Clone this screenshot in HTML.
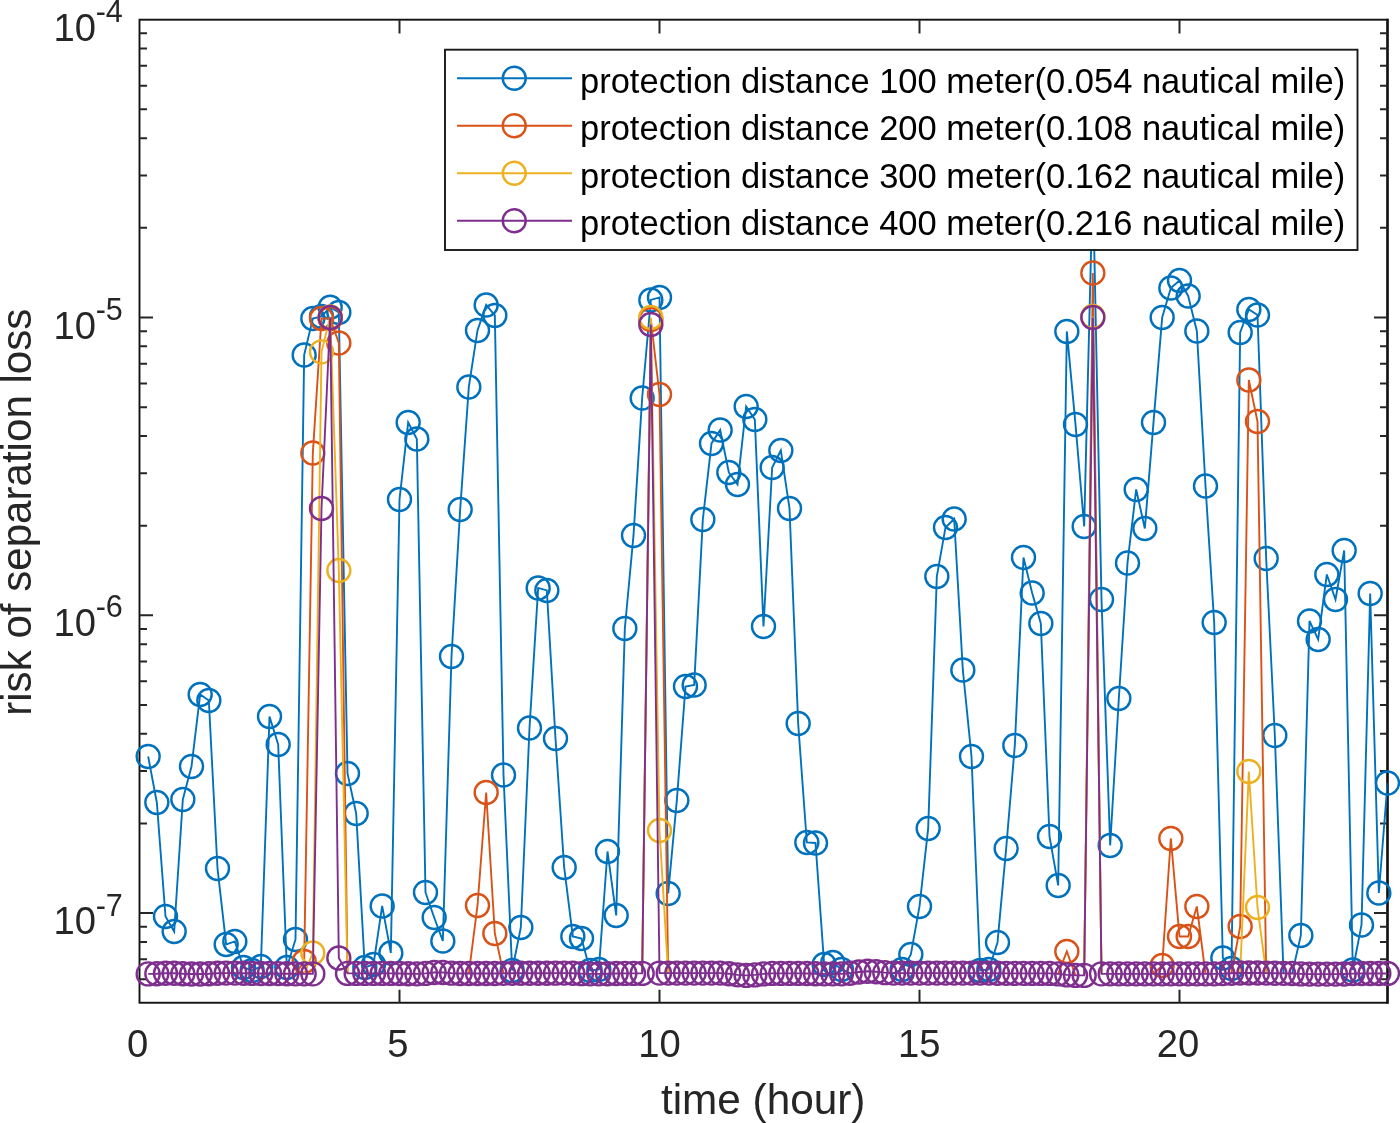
<!DOCTYPE html>
<html><head><meta charset="utf-8"><title>risk of separation loss</title>
<style>html,body{margin:0;padding:0;background:#fff}body{width:1400px;height:1123px;overflow:hidden}</style></head>
<body>
<svg width="1400" height="1123" viewBox="0 0 1400 1123" style="display:block;will-change:transform;font-family:'Liberation Sans',sans-serif">
<rect width="1400" height="1123" fill="#fff"/>
<g stroke="#121212" stroke-width="1.9" fill="none" stroke-linecap="butt">
<rect x="139.5" y="19.7" width="1248.0" height="983.05"/>
<path d="M1387.5 18.8V1003.65" stroke-width="2.4"/>
<path stroke="#262626" stroke-width="2" d="M139.5 979.17h7.5M1387.5 979.17h-7.5M139.5 959.23h7.5M1387.5 959.23h-7.5M139.5 941.96h7.5M1387.5 941.96h-7.5M139.5 926.73h7.5M1387.5 926.73h-7.5M139.5 913.1h13.5M1387.5 913.1h-13.5M139.5 823.46h7.5M1387.5 823.46h-7.5M139.5 771.02h7.5M1387.5 771.02h-7.5M139.5 733.81h7.5M1387.5 733.81h-7.5M139.5 704.95h7.5M1387.5 704.95h-7.5M139.5 681.37h7.5M1387.5 681.37h-7.5M139.5 661.43h7.5M1387.5 661.43h-7.5M139.5 644.16h7.5M1387.5 644.16h-7.5M139.5 628.93h7.5M1387.5 628.93h-7.5M139.5 615.3h13.5M1387.5 615.3h-13.5M139.5 525.65h7.5M1387.5 525.65h-7.5M139.5 473.21h7.5M1387.5 473.21h-7.5M139.5 436.01h7.5M1387.5 436.01h-7.5M139.5 407.15h7.5M1387.5 407.15h-7.5M139.5 383.57h7.5M1387.5 383.57h-7.5M139.5 363.63h7.5M1387.5 363.63h-7.5M139.5 346.36h7.5M1387.5 346.36h-7.5M139.5 331.13h7.5M1387.5 331.13h-7.5M139.5 317.5h13.5M1387.5 317.5h-13.5M139.5 227.85h7.5M1387.5 227.85h-7.5M139.5 175.41h7.5M1387.5 175.41h-7.5M139.5 138.21h7.5M1387.5 138.21h-7.5M139.5 109.35h7.5M1387.5 109.35h-7.5M139.5 85.77h7.5M1387.5 85.77h-7.5M139.5 65.83h7.5M1387.5 65.83h-7.5M139.5 48.56h7.5M1387.5 48.56h-7.5M139.5 33.33h7.5M1387.5 33.33h-7.5M399.5 1002.75v-13M399.5 19.7v13.9M659.5 1002.75v-13M659.5 19.7v13.9M919.5 1002.75v-13M919.5 19.7v13.9M1179.5 1002.75v-13M1179.5 19.7v13.9"/>
</g>
<g fill="#262626" font-size="38.2px">
<text x="137.5" y="1056.6" text-anchor="middle">0</text>
<text x="397.9" y="1056.6" text-anchor="middle">5</text>
<text x="659.5" y="1056.6" text-anchor="middle">10</text>
<text x="919.2" y="1056.6" text-anchor="middle">15</text>
<text x="1178.0" y="1056.6" text-anchor="middle">20</text>
<text x="53.5" y="40.6">10<tspan font-size="30.5px" dy="-18.2" dx="-0.3">-4</tspan></text>
<text x="53.5" y="339.4">10<tspan font-size="30.5px" dy="-19.4" dx="-0.3">-5</tspan></text>
<text x="53.5" y="635.5">10<tspan font-size="30.5px" dy="-18.5" dx="-0.3">-6</tspan></text>
<text x="53.5" y="934.2">10<tspan font-size="30.5px" dy="-18.2" dx="-0.3">-7</tspan></text>
</g>
<g fill="#262626" font-size="42.3px">
<text x="763.2" y="1114" text-anchor="middle">time (hour)</text>
<text transform="translate(31 512.2) rotate(-90)" text-anchor="middle" font-size="42.1px">risk of separation loss</text>
</g>
<clipPath id="c"><rect x="139.5" y="19.7" width="1248.0" height="983.05"/></clipPath>
<g stroke="#0072BD" fill="none">
<path clip-path="url(#c)" stroke-width="1.9" stroke-linejoin="miter" d="M148.17 756.45L156.83 802.45L165.50 916.45L174.17 931.45L182.83 799.45L191.50 766.45L200.17 694.45L208.83 700.45L217.50 868.45L226.17 944.45L234.83 941.45L243.50 967.45L252.17 970.45L260.83 966.45L269.50 716.45L278.17 744.45L286.83 967.45L295.50 939.45L304.17 354.95L312.83 318.45L321.50 316.45L330.17 307.25L338.83 312.45L347.50 773.45L356.17 813.45L364.83 967.45L373.50 964.45L382.17 905.95L390.83 952.95L399.50 499.45L408.17 422.45L416.83 438.95L425.50 892.45L434.17 917.45L442.83 940.95L451.50 656.45L460.17 509.45L468.83 386.95L477.50 330.45L486.17 304.95L494.83 315.45L503.50 774.95L512.17 970.45L520.83 927.45L529.50 727.95L538.17 587.95L546.83 590.45L555.50 738.45L564.17 867.45L572.83 936.45L581.50 938.45L590.17 970.45L598.83 969.45L607.50 851.45L616.17 915.45L624.83 628.45L633.50 535.45L642.17 397.95L650.83 299.95L659.50 297.45L668.17 893.45L676.83 800.45L685.50 686.45L694.17 684.95L702.83 519.45L711.50 443.45L720.17 429.95L728.83 472.45L737.50 484.45L746.17 406.45L754.83 419.45L763.50 626.45L772.17 467.45L780.83 450.45L789.50 508.45L798.17 723.45L806.83 842.45L815.50 842.95L824.17 964.45L832.83 962.45L841.50 969.45L850.17 973.21M893.50 973.10L902.17 969.45L910.83 954.45L919.50 906.45L928.17 828.45L936.83 576.45L945.50 527.45L954.17 518.95L962.83 669.95L971.50 756.45L980.17 970.45L988.83 969.45L997.50 942.45L1006.17 848.45L1014.83 745.45L1023.50 557.45L1032.17 592.95L1040.83 623.45L1049.50 836.45L1058.17 885.45L1066.83 331.45L1075.50 424.45L1084.17 526.45L1092.83 180.45L1101.50 599.45L1110.17 845.45L1118.83 698.45L1127.50 562.95L1136.17 489.45L1144.83 528.45L1153.50 422.45L1162.17 317.45L1170.83 287.95L1179.50 280.45L1188.17 295.95L1196.83 330.95L1205.50 485.95L1214.17 622.45L1222.83 957.95L1231.50 968.45L1240.17 332.45L1248.83 309.45L1257.50 314.95L1266.17 558.45L1274.83 735.45L1283.50 973.35M1292.17 973.54L1300.83 935.45L1309.50 620.95L1318.17 639.45L1326.83 574.45L1335.50 599.45L1344.17 550.45L1352.83 969.95L1361.50 924.95L1370.17 593.45L1378.83 892.95L1387.50 782.95"/>
<g stroke-width="2.4"><circle cx="148.17" cy="756.45" r="11.5"/><circle cx="156.83" cy="802.45" r="11.5"/><circle cx="165.50" cy="916.45" r="11.5"/><circle cx="174.17" cy="931.45" r="11.5"/><circle cx="182.83" cy="799.45" r="11.5"/><circle cx="191.50" cy="766.45" r="11.5"/><circle cx="200.17" cy="694.45" r="11.5"/><circle cx="208.83" cy="700.45" r="11.5"/><circle cx="217.50" cy="868.45" r="11.5"/><circle cx="226.17" cy="944.45" r="11.5"/><circle cx="234.83" cy="941.45" r="11.5"/><circle cx="243.50" cy="967.45" r="11.5"/><circle cx="252.17" cy="970.45" r="11.5"/><circle cx="260.83" cy="966.45" r="11.5"/><circle cx="269.50" cy="716.45" r="11.5"/><circle cx="278.17" cy="744.45" r="11.5"/><circle cx="286.83" cy="967.45" r="11.5"/><circle cx="295.50" cy="939.45" r="11.5"/><circle cx="304.17" cy="354.95" r="11.5"/><circle cx="312.83" cy="318.45" r="11.5"/><circle cx="321.50" cy="316.45" r="11.5"/><circle cx="330.17" cy="307.25" r="11.5"/><circle cx="338.83" cy="312.45" r="11.5"/><circle cx="347.50" cy="773.45" r="11.5"/><circle cx="356.17" cy="813.45" r="11.5"/><circle cx="364.83" cy="967.45" r="11.5"/><circle cx="373.50" cy="964.45" r="11.5"/><circle cx="382.17" cy="905.95" r="11.5"/><circle cx="390.83" cy="952.95" r="11.5"/><circle cx="399.50" cy="499.45" r="11.5"/><circle cx="408.17" cy="422.45" r="11.5"/><circle cx="416.83" cy="438.95" r="11.5"/><circle cx="425.50" cy="892.45" r="11.5"/><circle cx="434.17" cy="917.45" r="11.5"/><circle cx="442.83" cy="940.95" r="11.5"/><circle cx="451.50" cy="656.45" r="11.5"/><circle cx="460.17" cy="509.45" r="11.5"/><circle cx="468.83" cy="386.95" r="11.5"/><circle cx="477.50" cy="330.45" r="11.5"/><circle cx="486.17" cy="304.95" r="11.5"/><circle cx="494.83" cy="315.45" r="11.5"/><circle cx="503.50" cy="774.95" r="11.5"/><circle cx="512.17" cy="970.45" r="11.5"/><circle cx="520.83" cy="927.45" r="11.5"/><circle cx="529.50" cy="727.95" r="11.5"/><circle cx="538.17" cy="587.95" r="11.5"/><circle cx="546.83" cy="590.45" r="11.5"/><circle cx="555.50" cy="738.45" r="11.5"/><circle cx="564.17" cy="867.45" r="11.5"/><circle cx="572.83" cy="936.45" r="11.5"/><circle cx="581.50" cy="938.45" r="11.5"/><circle cx="590.17" cy="970.45" r="11.5"/><circle cx="598.83" cy="969.45" r="11.5"/><circle cx="607.50" cy="851.45" r="11.5"/><circle cx="616.17" cy="915.45" r="11.5"/><circle cx="624.83" cy="628.45" r="11.5"/><circle cx="633.50" cy="535.45" r="11.5"/><circle cx="642.17" cy="397.95" r="11.5"/><circle cx="650.83" cy="299.95" r="11.5"/><circle cx="659.50" cy="297.45" r="11.5"/><circle cx="668.17" cy="893.45" r="11.5"/><circle cx="676.83" cy="800.45" r="11.5"/><circle cx="685.50" cy="686.45" r="11.5"/><circle cx="694.17" cy="684.95" r="11.5"/><circle cx="702.83" cy="519.45" r="11.5"/><circle cx="711.50" cy="443.45" r="11.5"/><circle cx="720.17" cy="429.95" r="11.5"/><circle cx="728.83" cy="472.45" r="11.5"/><circle cx="737.50" cy="484.45" r="11.5"/><circle cx="746.17" cy="406.45" r="11.5"/><circle cx="754.83" cy="419.45" r="11.5"/><circle cx="763.50" cy="626.45" r="11.5"/><circle cx="772.17" cy="467.45" r="11.5"/><circle cx="780.83" cy="450.45" r="11.5"/><circle cx="789.50" cy="508.45" r="11.5"/><circle cx="798.17" cy="723.45" r="11.5"/><circle cx="806.83" cy="842.45" r="11.5"/><circle cx="815.50" cy="842.95" r="11.5"/><circle cx="824.17" cy="964.45" r="11.5"/><circle cx="832.83" cy="962.45" r="11.5"/><circle cx="841.50" cy="969.45" r="11.5"/><circle cx="902.17" cy="969.45" r="11.5"/><circle cx="910.83" cy="954.45" r="11.5"/><circle cx="919.50" cy="906.45" r="11.5"/><circle cx="928.17" cy="828.45" r="11.5"/><circle cx="936.83" cy="576.45" r="11.5"/><circle cx="945.50" cy="527.45" r="11.5"/><circle cx="954.17" cy="518.95" r="11.5"/><circle cx="962.83" cy="669.95" r="11.5"/><circle cx="971.50" cy="756.45" r="11.5"/><circle cx="980.17" cy="970.45" r="11.5"/><circle cx="988.83" cy="969.45" r="11.5"/><circle cx="997.50" cy="942.45" r="11.5"/><circle cx="1006.17" cy="848.45" r="11.5"/><circle cx="1014.83" cy="745.45" r="11.5"/><circle cx="1023.50" cy="557.45" r="11.5"/><circle cx="1032.17" cy="592.95" r="11.5"/><circle cx="1040.83" cy="623.45" r="11.5"/><circle cx="1049.50" cy="836.45" r="11.5"/><circle cx="1058.17" cy="885.45" r="11.5"/><circle cx="1066.83" cy="331.45" r="11.5"/><circle cx="1075.50" cy="424.45" r="11.5"/><circle cx="1084.17" cy="526.45" r="11.5"/><circle cx="1092.83" cy="180.45" r="11.5"/><circle cx="1101.50" cy="599.45" r="11.5"/><circle cx="1110.17" cy="845.45" r="11.5"/><circle cx="1118.83" cy="698.45" r="11.5"/><circle cx="1127.50" cy="562.95" r="11.5"/><circle cx="1136.17" cy="489.45" r="11.5"/><circle cx="1144.83" cy="528.45" r="11.5"/><circle cx="1153.50" cy="422.45" r="11.5"/><circle cx="1162.17" cy="317.45" r="11.5"/><circle cx="1170.83" cy="287.95" r="11.5"/><circle cx="1179.50" cy="280.45" r="11.5"/><circle cx="1188.17" cy="295.95" r="11.5"/><circle cx="1196.83" cy="330.95" r="11.5"/><circle cx="1205.50" cy="485.95" r="11.5"/><circle cx="1214.17" cy="622.45" r="11.5"/><circle cx="1222.83" cy="957.95" r="11.5"/><circle cx="1231.50" cy="968.45" r="11.5"/><circle cx="1240.17" cy="332.45" r="11.5"/><circle cx="1248.83" cy="309.45" r="11.5"/><circle cx="1257.50" cy="314.95" r="11.5"/><circle cx="1266.17" cy="558.45" r="11.5"/><circle cx="1274.83" cy="735.45" r="11.5"/><circle cx="1300.83" cy="935.45" r="11.5"/><circle cx="1309.50" cy="620.95" r="11.5"/><circle cx="1318.17" cy="639.45" r="11.5"/><circle cx="1326.83" cy="574.45" r="11.5"/><circle cx="1335.50" cy="599.45" r="11.5"/><circle cx="1344.17" cy="550.45" r="11.5"/><circle cx="1352.83" cy="969.95" r="11.5"/><circle cx="1361.50" cy="924.95" r="11.5"/><circle cx="1370.17" cy="593.45" r="11.5"/><circle cx="1378.83" cy="892.95" r="11.5"/><circle cx="1387.50" cy="782.95" r="11.5"/></g>
</g>
<g stroke="#D95319" fill="none">
<path clip-path="url(#c)" stroke-width="1.9" stroke-linejoin="miter" d="M295.50 973.85L304.17 961.45L312.83 452.95L321.50 318.45L330.17 318.45L338.83 342.95L347.50 973.40M468.83 973.50L477.50 905.45L486.17 792.45L494.83 933.45L503.50 973.35M642.17 973.40L650.83 319.45L659.50 394.45L668.17 973.10M1058.17 973.90L1066.83 951.45L1075.50 975.40M1084.17 975.40L1092.83 272.95L1101.50 973.85M1153.50 973.85L1162.17 965.45L1170.83 838.45L1179.50 936.45L1188.17 936.45L1196.83 906.45L1205.50 973.85M1231.50 973.21L1240.17 926.45L1248.83 379.95L1257.50 421.45L1266.17 973.09"/>
<g stroke-width="2.4"><circle cx="304.17" cy="961.45" r="11.5"/><circle cx="312.83" cy="452.95" r="11.5"/><circle cx="321.50" cy="318.45" r="11.5"/><circle cx="330.17" cy="318.45" r="11.5"/><circle cx="338.83" cy="342.95" r="11.5"/><circle cx="477.50" cy="905.45" r="11.5"/><circle cx="486.17" cy="792.45" r="11.5"/><circle cx="494.83" cy="933.45" r="11.5"/><circle cx="650.83" cy="319.45" r="11.5"/><circle cx="659.50" cy="394.45" r="11.5"/><circle cx="1066.83" cy="951.45" r="11.5"/><circle cx="1092.83" cy="272.95" r="11.5"/><circle cx="1162.17" cy="965.45" r="11.5"/><circle cx="1170.83" cy="838.45" r="11.5"/><circle cx="1179.50" cy="936.45" r="11.5"/><circle cx="1188.17" cy="936.45" r="11.5"/><circle cx="1196.83" cy="906.45" r="11.5"/><circle cx="1240.17" cy="926.45" r="11.5"/><circle cx="1248.83" cy="379.95" r="11.5"/><circle cx="1257.50" cy="421.45" r="11.5"/></g>
</g>
<g stroke="#EDB120" fill="none">
<path clip-path="url(#c)" stroke-width="1.9" stroke-linejoin="miter" d="M304.17 973.85L312.83 952.95L321.50 351.85L330.17 316.95L338.83 570.45L347.50 973.40M642.17 973.40L650.83 317.45L659.50 830.45L668.17 973.10M1084.17 975.40L1092.83 316.45L1101.50 973.85M1240.17 973.00L1248.83 771.45L1257.50 907.45L1266.17 973.09"/>
<g stroke-width="2.4"><circle cx="312.83" cy="952.95" r="11.5"/><circle cx="321.50" cy="351.85" r="11.5"/><circle cx="330.17" cy="316.95" r="11.5"/><circle cx="338.83" cy="570.45" r="11.5"/><circle cx="650.83" cy="317.45" r="11.5"/><circle cx="659.50" cy="830.45" r="11.5"/><circle cx="1092.83" cy="316.45" r="11.5"/><circle cx="1248.83" cy="771.45" r="11.5"/><circle cx="1257.50" cy="907.45" r="11.5"/></g>
</g>
<g stroke="#7E2F8E" fill="none">
<path clip-path="url(#c)" stroke-width="1.9" stroke-linejoin="miter" d="M148.17 973.90 L156.83 973.70 L165.50 973.30 L174.17 973.31 L182.83 973.74 L191.50 973.95 L200.17 973.95 L208.83 973.74 L217.50 973.31 L226.17 973.10 L234.83 973.10 L243.50 973.20 L252.17 973.40 L260.83 973.50 L269.50 973.50 L278.17 973.59 L286.83 973.76 L295.50 973.85 L304.17 973.85 L312.83 973.85 L321.50 508.45 L330.17 317.45 L338.83 957.95 L347.50 973.40 L356.17 973.40 L364.83 973.40 L373.50 973.40 L382.17 973.40 L390.83 973.40 L399.50 973.51 L408.17 973.74 L416.83 973.85 L425.50 973.41 L434.17 972.54 L442.83 972.45 L451.50 973.15 L460.17 973.50 L468.83 973.50 L477.50 973.50 L486.17 973.50 L494.83 973.45 L503.50 973.35 L512.17 973.30 L520.83 973.30 L529.50 973.30 L538.17 973.30 L546.83 973.25 L555.50 973.15 L564.17 973.10 L572.83 973.29 L581.50 973.66 L590.17 973.85 L598.83 973.85 L607.50 973.74 L616.17 973.51 L624.83 973.40 L633.50 973.40 L642.17 973.40 L650.83 324.45 L659.50 973.10 L668.17 973.10 L676.83 973.10 L685.50 973.10 L694.17 973.10 L702.83 973.10 L711.50 973.10 L720.17 973.10 L728.83 973.68 L737.50 974.83 L746.17 975.40 L754.83 974.90 L763.50 973.90 L772.17 973.40 L780.83 973.40 L789.50 973.40 L798.17 973.40 L806.83 973.51 L815.50 973.74 L824.17 973.85 L832.83 973.85 L841.50 973.85 L850.17 973.21 L858.83 971.94 L867.50 971.30 L876.17 971.75 L884.83 972.65 L893.50 973.10 L902.17 973.10 L910.83 973.10 L919.50 973.10 L928.17 973.10 L936.83 973.10 L945.50 973.10 L954.17 973.10 L962.83 973.10 L971.50 973.10 L980.17 973.10 L988.83 973.10 L997.50 973.18 L1006.17 973.33 L1014.83 973.40 L1023.50 973.40 L1032.17 973.40 L1040.83 973.40 L1049.50 973.40 L1058.17 973.90 L1066.83 974.90 L1075.50 975.40 L1084.17 975.40 L1092.83 317.45 L1101.50 973.85 L1110.17 973.85 L1118.83 973.85 L1127.50 973.85 L1136.17 973.85 L1144.83 973.85 L1153.50 973.85 L1162.17 973.85 L1170.83 973.85 L1179.50 973.85 L1188.17 973.85 L1196.83 973.85 L1205.50 973.85 L1214.17 973.85 L1222.83 973.64 L1231.50 973.21 L1240.17 973.00 L1248.83 973.00 L1257.50 973.00 L1266.17 973.09 L1274.83 973.26 L1283.50 973.35 L1292.17 973.54 L1300.83 973.91 L1309.50 974.10 L1318.17 974.10 L1326.83 974.10 L1335.50 974.10 L1344.17 973.94 L1352.83 973.61 L1361.50 973.45 L1370.17 973.45 L1378.83 973.45 L1387.50 973.45"/>
<g stroke-width="2.4"><circle cx="148.17" cy="973.90" r="11.5"/><circle cx="156.83" cy="973.70" r="11.5"/><circle cx="165.50" cy="973.30" r="11.5"/><circle cx="174.17" cy="973.31" r="11.5"/><circle cx="182.83" cy="973.74" r="11.5"/><circle cx="191.50" cy="973.95" r="11.5"/><circle cx="200.17" cy="973.95" r="11.5"/><circle cx="208.83" cy="973.74" r="11.5"/><circle cx="217.50" cy="973.31" r="11.5"/><circle cx="226.17" cy="973.10" r="11.5"/><circle cx="234.83" cy="973.10" r="11.5"/><circle cx="243.50" cy="973.20" r="11.5"/><circle cx="252.17" cy="973.40" r="11.5"/><circle cx="260.83" cy="973.50" r="11.5"/><circle cx="269.50" cy="973.50" r="11.5"/><circle cx="278.17" cy="973.59" r="11.5"/><circle cx="286.83" cy="973.76" r="11.5"/><circle cx="295.50" cy="973.85" r="11.5"/><circle cx="304.17" cy="973.85" r="11.5"/><circle cx="312.83" cy="973.85" r="11.5"/><circle cx="321.50" cy="508.45" r="11.5"/><circle cx="330.17" cy="317.45" r="11.5"/><circle cx="338.83" cy="957.95" r="11.5"/><circle cx="347.50" cy="973.40" r="11.5"/><circle cx="356.17" cy="973.40" r="11.5"/><circle cx="364.83" cy="973.40" r="11.5"/><circle cx="373.50" cy="973.40" r="11.5"/><circle cx="382.17" cy="973.40" r="11.5"/><circle cx="390.83" cy="973.40" r="11.5"/><circle cx="399.50" cy="973.51" r="11.5"/><circle cx="408.17" cy="973.74" r="11.5"/><circle cx="416.83" cy="973.85" r="11.5"/><circle cx="425.50" cy="973.41" r="11.5"/><circle cx="434.17" cy="972.54" r="11.5"/><circle cx="442.83" cy="972.45" r="11.5"/><circle cx="451.50" cy="973.15" r="11.5"/><circle cx="460.17" cy="973.50" r="11.5"/><circle cx="468.83" cy="973.50" r="11.5"/><circle cx="477.50" cy="973.50" r="11.5"/><circle cx="486.17" cy="973.50" r="11.5"/><circle cx="494.83" cy="973.45" r="11.5"/><circle cx="503.50" cy="973.35" r="11.5"/><circle cx="512.17" cy="973.30" r="11.5"/><circle cx="520.83" cy="973.30" r="11.5"/><circle cx="529.50" cy="973.30" r="11.5"/><circle cx="538.17" cy="973.30" r="11.5"/><circle cx="546.83" cy="973.25" r="11.5"/><circle cx="555.50" cy="973.15" r="11.5"/><circle cx="564.17" cy="973.10" r="11.5"/><circle cx="572.83" cy="973.29" r="11.5"/><circle cx="581.50" cy="973.66" r="11.5"/><circle cx="590.17" cy="973.85" r="11.5"/><circle cx="598.83" cy="973.85" r="11.5"/><circle cx="607.50" cy="973.74" r="11.5"/><circle cx="616.17" cy="973.51" r="11.5"/><circle cx="624.83" cy="973.40" r="11.5"/><circle cx="633.50" cy="973.40" r="11.5"/><circle cx="642.17" cy="973.40" r="11.5"/><circle cx="650.83" cy="324.45" r="11.5"/><circle cx="659.50" cy="973.10" r="11.5"/><circle cx="668.17" cy="973.10" r="11.5"/><circle cx="676.83" cy="973.10" r="11.5"/><circle cx="685.50" cy="973.10" r="11.5"/><circle cx="694.17" cy="973.10" r="11.5"/><circle cx="702.83" cy="973.10" r="11.5"/><circle cx="711.50" cy="973.10" r="11.5"/><circle cx="720.17" cy="973.10" r="11.5"/><circle cx="728.83" cy="973.68" r="11.5"/><circle cx="737.50" cy="974.83" r="11.5"/><circle cx="746.17" cy="975.40" r="11.5"/><circle cx="754.83" cy="974.90" r="11.5"/><circle cx="763.50" cy="973.90" r="11.5"/><circle cx="772.17" cy="973.40" r="11.5"/><circle cx="780.83" cy="973.40" r="11.5"/><circle cx="789.50" cy="973.40" r="11.5"/><circle cx="798.17" cy="973.40" r="11.5"/><circle cx="806.83" cy="973.51" r="11.5"/><circle cx="815.50" cy="973.74" r="11.5"/><circle cx="824.17" cy="973.85" r="11.5"/><circle cx="832.83" cy="973.85" r="11.5"/><circle cx="841.50" cy="973.85" r="11.5"/><circle cx="850.17" cy="973.21" r="11.5"/><circle cx="858.83" cy="971.94" r="11.5"/><circle cx="867.50" cy="971.30" r="11.5"/><circle cx="876.17" cy="971.75" r="11.5"/><circle cx="884.83" cy="972.65" r="11.5"/><circle cx="893.50" cy="973.10" r="11.5"/><circle cx="902.17" cy="973.10" r="11.5"/><circle cx="910.83" cy="973.10" r="11.5"/><circle cx="919.50" cy="973.10" r="11.5"/><circle cx="928.17" cy="973.10" r="11.5"/><circle cx="936.83" cy="973.10" r="11.5"/><circle cx="945.50" cy="973.10" r="11.5"/><circle cx="954.17" cy="973.10" r="11.5"/><circle cx="962.83" cy="973.10" r="11.5"/><circle cx="971.50" cy="973.10" r="11.5"/><circle cx="980.17" cy="973.10" r="11.5"/><circle cx="988.83" cy="973.10" r="11.5"/><circle cx="997.50" cy="973.18" r="11.5"/><circle cx="1006.17" cy="973.33" r="11.5"/><circle cx="1014.83" cy="973.40" r="11.5"/><circle cx="1023.50" cy="973.40" r="11.5"/><circle cx="1032.17" cy="973.40" r="11.5"/><circle cx="1040.83" cy="973.40" r="11.5"/><circle cx="1049.50" cy="973.40" r="11.5"/><circle cx="1058.17" cy="973.90" r="11.5"/><circle cx="1066.83" cy="974.90" r="11.5"/><circle cx="1075.50" cy="975.40" r="11.5"/><circle cx="1084.17" cy="975.40" r="11.5"/><circle cx="1092.83" cy="317.45" r="11.5"/><circle cx="1101.50" cy="973.85" r="11.5"/><circle cx="1110.17" cy="973.85" r="11.5"/><circle cx="1118.83" cy="973.85" r="11.5"/><circle cx="1127.50" cy="973.85" r="11.5"/><circle cx="1136.17" cy="973.85" r="11.5"/><circle cx="1144.83" cy="973.85" r="11.5"/><circle cx="1153.50" cy="973.85" r="11.5"/><circle cx="1162.17" cy="973.85" r="11.5"/><circle cx="1170.83" cy="973.85" r="11.5"/><circle cx="1179.50" cy="973.85" r="11.5"/><circle cx="1188.17" cy="973.85" r="11.5"/><circle cx="1196.83" cy="973.85" r="11.5"/><circle cx="1205.50" cy="973.85" r="11.5"/><circle cx="1214.17" cy="973.85" r="11.5"/><circle cx="1222.83" cy="973.64" r="11.5"/><circle cx="1231.50" cy="973.21" r="11.5"/><circle cx="1240.17" cy="973.00" r="11.5"/><circle cx="1248.83" cy="973.00" r="11.5"/><circle cx="1257.50" cy="973.00" r="11.5"/><circle cx="1266.17" cy="973.09" r="11.5"/><circle cx="1274.83" cy="973.26" r="11.5"/><circle cx="1283.50" cy="973.35" r="11.5"/><circle cx="1292.17" cy="973.54" r="11.5"/><circle cx="1300.83" cy="973.91" r="11.5"/><circle cx="1309.50" cy="974.10" r="11.5"/><circle cx="1318.17" cy="974.10" r="11.5"/><circle cx="1326.83" cy="974.10" r="11.5"/><circle cx="1335.50" cy="974.10" r="11.5"/><circle cx="1344.17" cy="973.94" r="11.5"/><circle cx="1352.83" cy="973.61" r="11.5"/><circle cx="1361.50" cy="973.45" r="11.5"/><circle cx="1370.17" cy="973.45" r="11.5"/><circle cx="1378.83" cy="973.45" r="11.5"/><circle cx="1387.50" cy="973.45" r="11.5"/></g>
</g>
<rect x="445" y="49.7" width="912.5" height="200.3" fill="#fff" stroke="#1a1a1a" stroke-width="1.9"/>
<path d="M457 78.25H572" stroke="#0072BD" stroke-width="1.9"/>
<circle cx="514.25" cy="78.25" r="11.5" fill="none" stroke="#0072BD" stroke-width="2.4"/>
<text x="580" y="92.5" font-size="34.5px" fill="#000">protection distance 100 meter(0.054 nautical mile)</text>
<path d="M457 125.75H572" stroke="#D95319" stroke-width="1.9"/>
<circle cx="514.25" cy="125.75" r="11.5" fill="none" stroke="#D95319" stroke-width="2.4"/>
<text x="580" y="140.0" font-size="34.5px" fill="#000">protection distance 200 meter(0.108 nautical mile)</text>
<path d="M457 173.25H572" stroke="#EDB120" stroke-width="1.9"/>
<circle cx="514.25" cy="173.25" r="11.5" fill="none" stroke="#EDB120" stroke-width="2.4"/>
<text x="580" y="187.5" font-size="34.5px" fill="#000">protection distance 300 meter(0.162 nautical mile)</text>
<path d="M457 220.75H572" stroke="#7E2F8E" stroke-width="1.9"/>
<circle cx="514.25" cy="220.75" r="11.5" fill="none" stroke="#7E2F8E" stroke-width="2.4"/>
<text x="580" y="235.0" font-size="34.5px" fill="#000">protection distance 400 meter(0.216 nautical mile)</text>
</svg>
</body></html>
